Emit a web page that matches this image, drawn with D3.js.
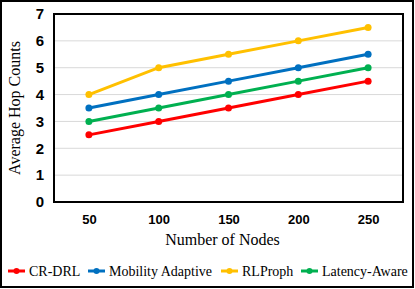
<!DOCTYPE html>
<html>
<head>
<meta charset="utf-8">
<script src="https://cdn.jsdelivr.net/npm/d3@7"></script>
<style>
  body { margin: 0; background: #fff; }
  svg { display: block; }
  .serif { font-family: 'Liberation Serif', 'Times New Roman', Times, serif; }
  .bold { font-family: 'Liberation Sans', Arial, sans-serif; font-weight: bold; }
</style>
</head>
<body>
<svg id="chart" width="415" height="289"></svg>
<script>
// Data
const nodes = ['50', '100', '150', '200', '250'];
const crDrl = [2.5, 3, 3.5, 4, 4.5];
const mobility = [3.5, 4, 4.5, 5, 5.5];
const rlProph = [4, 5, 5.5, 6, 6.5];
const latency = [3, 3.5, 4, 4.5, 5];
const yTicks = [0, 1, 2, 3, 4, 5, 6, 7];

const series = [
  { name: 'CR-DRL', values: crDrl, color: '#ff0000' },
  { name: 'Mobility Adaptive', values: mobility, color: '#0070c0' },
  { name: 'RLProph', values: rlProph, color: '#ffc000' },
  { name: 'Latency-Aware', values: latency, color: '#00b050' }
];

const width = 415, height = 289;
const plot = { left: 54, top: 14, right: 403, bottom: 202 };

const svg = d3.select('#chart');

// outer frame
svg.append('rect')
  .attr('x', 1).attr('y', 1)
  .attr('width', width - 3).attr('height', height - 3)
  .attr('fill', '#fff').attr('stroke', '#000').attr('stroke-width', 2);

const x = d3.scalePoint().domain(nodes)
  .range([plot.left, plot.right]).padding(0.5);
const y = d3.scaleLinear().domain([0, 7])
  .range([plot.bottom, plot.top]);

// gridlines
svg.append('g')
  .selectAll('line')
  .data(yTicks.filter(d => d > 0 && d < 7))
  .join('line')
  .attr('x1', plot.left).attr('x2', plot.right)
  .attr('y1', d => y(d)).attr('y2', d => y(d))
  .attr('stroke', '#d9d9d9').attr('stroke-width', 1);

// y axis labels
const yAxis = svg.append('g')
  .attr('transform', `translate(${plot.left},0)`)
  .call(d3.axisLeft(y).tickValues(yTicks).tickFormat(d3.format('d'))
    .tickSize(0).tickPadding(10));
yAxis.select('.domain').remove();
yAxis.attr('font-family', null).attr('font-size', null);
yAxis.selectAll('text')
  .attr('class', 'bold')
  .attr('font-size', 15)
  .attr('fill', '#000');

// x axis labels
const xAxis = svg.append('g')
  .attr('transform', `translate(0,${plot.bottom})`)
  .call(d3.axisBottom(x).tickSize(0).tickPadding(13));
xAxis.select('.domain').remove();
xAxis.attr('font-family', null).attr('font-size', null);
xAxis.selectAll('text')
  .attr('class', 'bold')
  .attr('font-size', 13)
  .attr('fill', '#000');

// plot border
svg.append('rect')
  .attr('x', plot.left).attr('y', plot.top)
  .attr('width', plot.right - plot.left).attr('height', plot.bottom - plot.top)
  .attr('fill', 'none').attr('stroke', '#000').attr('stroke-width', 2);

// lines + markers
const line = d3.line()
  .x((d, i) => x(nodes[i]))
  .y(d => y(d));

series.forEach(s => {
  svg.append('path')
    .datum(s.values)
    .attr('d', line)
    .attr('fill', 'none')
    .attr('stroke', s.color)
    .attr('stroke-width', 3);
  svg.append('g')
    .selectAll('circle')
    .data(s.values)
    .join('circle')
    .attr('cx', (d, i) => x(nodes[i]))
    .attr('cy', d => y(d))
    .attr('r', 3.5)
    .attr('fill', s.color);
});

// axis titles
svg.append('text')
  .attr('class', 'serif')
  .attr('x', (plot.left + plot.right) / 2 - 6).attr('y', 245)
  .attr('text-anchor', 'middle')
  .attr('font-size', 16)
  .text('Number of Nodes');

svg.append('text')
  .attr('class', 'serif')
  .attr('transform', `translate(20,${(plot.top + plot.bottom) / 2}) rotate(-90)`)
  .attr('text-anchor', 'middle')
  .attr('font-size', 16)
  .text('Average Hop Counts');

// legend
const legendX = [8, 88, 221, 301];
const legend = svg.append('g');
series.forEach((s, i) => {
  const g = legend.append('g').attr('transform', `translate(${legendX[i]},271)`);
  g.append('line')
    .attr('x1', 0).attr('x2', 17)
    .attr('stroke', s.color).attr('stroke-width', 3);
  g.append('circle').attr('cx', 8.5).attr('r', 3).attr('fill', s.color);
  g.append('text')
    .attr('class', 'serif')
    .attr('x', 21).attr('y', 5)
    .attr('font-size', 14)
    .text(s.name);
});
</script>
</body>
</html>
